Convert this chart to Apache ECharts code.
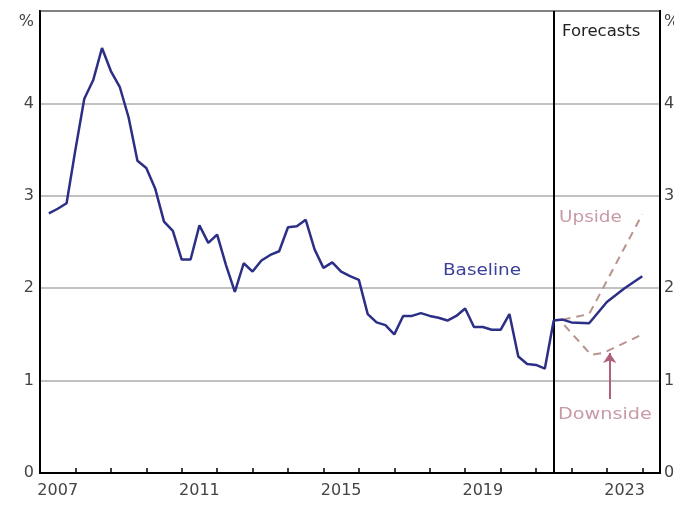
<!DOCTYPE html>
<html>
<head>
<meta charset="utf-8">
<title>Forecasts</title>
<script src="https://cdn.jsdelivr.net/npm/echarts@6/dist/echarts.min.js"></script>
<style>
  html, body { margin: 0; padding: 0; background: #fff; }
  #chart { width: 674px; height: 509px; }
</style>
</head>
<body>
<div id="chart"></div>
<script>
// quarterly history, first point 2007 Q2
var histStart = 2007.25;
var histValues = [
  2.81, 2.86, 2.92, 3.5, 4.05, 4.25, 4.6, 4.35, 4.18, 3.85,
  3.38, 3.3, 3.08, 2.72, 2.62, 2.31, 2.31, 2.68, 2.49, 2.58,
  2.25, 1.96, 2.27, 2.18, 2.3, 2.36, 2.4, 2.66, 2.67, 2.74,
  2.42, 2.22, 2.28, 2.18, 2.13, 2.09, 1.72, 1.63, 1.6, 1.5,
  1.7, 1.7, 1.73, 1.7, 1.68, 1.65, 1.7, 1.78, 1.58, 1.58,
  1.55, 1.55, 1.72, 1.26, 1.18, 1.17, 1.13, 1.65
];
// forecast paths
var baseTimes = [2021.5, 2021.75, 2022.0, 2022.5, 2023.0, 2023.5, 2024.0];
var baseValues = [1.65, 1.66, 1.63, 1.62, 1.85, 2.0, 2.13];
var upTimes = [2021.75, 2022.5, 2024.0];
var upValues = [1.66, 1.72, 2.8];
var downTimes = [2021.8, 2022.55, 2022.9, 2024.0];
var downValues = [1.6, 1.28, 1.3, 1.5];

var forecastStart = 2021.5;
var tickYears = [2008, 2009, 2010, 2011, 2012, 2013, 2014, 2015, 2016,
                 2017, 2018, 2019, 2020, 2021, 2022, 2023, 2024];
var labelYears = [2007, 2011, 2015, 2019, 2023];
var arrowFrom = [2023.08, 0.8];
var arrowTo = [2023.08, 1.3];

function pairs(xs, ys) {
  return xs.map(function (x, i) { return [x, ys[i]]; });
}

var histData = histValues.map(function (v, i) { return [histStart + i * 0.25, v]; });

var chart = echarts.init(document.getElementById('chart'));

var FONT = 'DejaVu Sans, Arial';

var yLabel = {
  color: '#444',
  fontSize: 16,
  fontFamily: FONT,
  formatter: function (v) { return v === 5 ? '{p|%}' : String(v); },
  rich: { p: { fontSize: 16, fontFamily: FONT, color: '#444', padding: [22, 0, 0, 0] } }
};

var option = {
  backgroundColor: '#fff',
  animation: false,
  grid: {
    left: 40, right: 14, top: 11, bottom: 36,
    outerBoundsMode: 'none',
    containLabel: false,
    show: true,
    borderColor: '#000',
    borderWidth: 2,
    backgroundColor: 'transparent'
  },
  xAxis: [
    {
      type: 'value',
      min: 2007,
      max: 2024.5,
      axisLine: { show: true, lineStyle: { color: '#000', width: 2 } },
      axisTick: {
        show: true,
        inside: true,
        length: 5,
        customValues: tickYears,
        lineStyle: { color: '#000', width: 1.5 }
      },
      axisLabel: {
        customValues: labelYears.map(function (y) { return y + 0.5; }),
        formatter: function (v) { return String(Math.floor(v)); },
        color: '#444',
        fontSize: 16,
        fontFamily: FONT,
        margin: 10
      },
      splitLine: { show: false }
    },
    {
      type: 'value',
      position: 'top',
      min: 2007,
      max: 2024.5,
      axisLine: { show: true, lineStyle: { color: '#000', width: 2 } },
      axisTick: { show: false },
      axisLabel: { show: false },
      splitLine: { show: false }
    }
  ],
  yAxis: [
    {
      type: 'value', min: 0, max: 5, interval: 1,
      position: 'left',
      axisLine: { show: true, lineStyle: { color: '#000', width: 2 } },
      axisTick: { show: false },
      axisLabel: Object.assign({}, yLabel, { margin: 6 }),
      splitLine: { show: true, lineStyle: { color: '#adadad', width: 1.5 } }
    },
    {
      type: 'value', min: 0, max: 5, interval: 1,
      position: 'right',
      axisLine: { show: true, lineStyle: { color: '#000', width: 2 } },
      axisTick: { show: false },
      axisLabel: Object.assign({}, yLabel, { margin: 4 }),
      splitLine: { show: false }
    }
  ],
  series: [
    {
      name: 'History',
      type: 'line',
      data: histData,
      showSymbol: false,
      lineStyle: { color: '#2b2f86', width: 2.5 },
      z: 5,
      markLine: {
        silent: true,
        symbol: ['none', 'none'],
        label: { show: false },
        lineStyle: { color: '#000', width: 2, type: 'solid' },
        data: [{ xAxis: forecastStart }]
      }
    },
    {
      name: 'Upside',
      type: 'line',
      data: pairs(upTimes, upValues),
      showSymbol: false,
      lineStyle: { color: '#b8948c', width: 2, type: [8, 6] },
      z: 3
    },
    {
      name: 'Downside',
      type: 'line',
      data: pairs(downTimes, downValues),
      showSymbol: false,
      lineStyle: { color: '#b8948c', width: 2, type: [8, 6] },
      z: 3,
      markLine: {
        silent: true,
        symbol: ['none', 'arrow'],
        symbolSize: 10,
        label: { show: false },
        lineStyle: { color: '#b0607a', width: 2, type: 'solid' },
        data: [[{ coord: arrowFrom }, { coord: arrowTo }]]
      }
    },
    {
      name: 'Baseline',
      type: 'line',
      data: pairs(baseTimes, baseValues),
      showSymbol: false,
      lineStyle: { color: '#2b2f86', width: 2.5 },
      z: 5
    }
  ],
  graphic: [
    { type: 'text', x: 562, y: 32, scaleX: 1.1,
      style: { text: 'Forecasts', fill: '#222', font: '15px ' + FONT, verticalAlign: 'middle' } },
    { type: 'text', x: 443, y: 271, scaleX: 1.15,
      style: { text: 'Baseline', fill: '#3a3f99', font: '16px ' + FONT, verticalAlign: 'middle' } },
    { type: 'text', x: 559, y: 218, scaleX: 1.15,
      style: { text: 'Upside', fill: '#c89aa6', font: '16px ' + FONT, verticalAlign: 'middle' } },
    { type: 'text', x: 558, y: 415, scaleX: 1.2,
      style: { text: 'Downside', fill: '#c89aa6', font: '16px ' + FONT, verticalAlign: 'middle' } }
  ]
};

chart.setOption(option);
</script>
</body>
</html>
